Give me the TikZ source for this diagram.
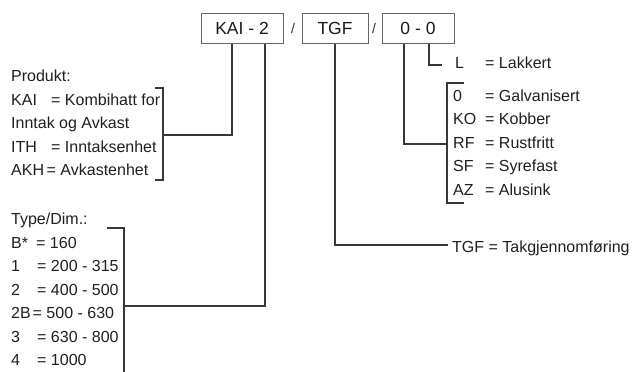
\documentclass[tikz,border=0pt]{standalone}
\usepackage{fontspec}
\setmainfont{Liberation Sans}
\begin{document}
\begin{tikzpicture}[x=1pt,y=-1pt,
  box/.style={draw=black!60, line width=1pt, minimum height=30pt, inner sep=0pt, font=\fontsize{17.5}{20}\selectfont, text=black!90},
  lbl/.style={anchor=base west, inner sep=0pt, font=\fontsize{16}{19}\selectfont, text=black!88},
  slash/.style={inner sep=0pt, font=\fontsize{14}{16}\selectfont, text=black!80},
  conn/.style={draw=black!78, line width=1.3pt},
  brk/.style={draw=black!78, line width=1.3pt}]
\useasboundingbox (0,0) rectangle (635,372);

% code boxes
\node[box, minimum width=82pt] (kai) at (242,28) {KAI - 2};
\node[slash] (s1) at (293,28) {/};
\node[box, minimum width=66pt] (tgf) at (335,28) {TGF};
\node[slash] (s2) at (374,28) {/};
\node[box, minimum width=72pt] (oo) at (418,28) {0 - 0};

% Produkt list
\node[lbl] (p0) at (11,81.5) {Produkt:};
\node[lbl] (p1) at (11,105) {KAI};
\node[lbl] (p1b) at (51,105) {= Kombihatt for};
\node[lbl] (p2) at (11,128.5) {Inntak og Avkast};
\node[lbl] (p3) at (11,152) {ITH};
\node[lbl] (p3b) at (51,152) {= Inntaksenhet};
\node[lbl] (p4) at (11,175.5) {AKH};
\node[lbl] (p4b) at (46.5,175.5) {= Avkastenhet};

% Type list
\node[lbl] (t0) at (11,224.5) {Type/Dim.:};
\node[lbl] (t1) at (11,248) {B*};
\node[lbl] (t1b) at (36,248) {= 160};
\node[lbl] (t2) at (11,271.5) {1};
\node[lbl] (t2b) at (37,271.5) {= 200 - 315};
\node[lbl] (t3) at (11,295) {2};
\node[lbl] (t3b) at (37,295) {= 400 - 500};
\node[lbl] (t4) at (11,318.5) {2B};
\node[lbl] (t4b) at (32.5,318.5) {= 500 - 630};
\node[lbl] (t5) at (11,342) {3};
\node[lbl] (t5b) at (37,342) {= 630 - 800};
\node[lbl] (t6) at (11,365.5) {4};
\node[lbl] (t6b) at (37,365.5) {= 1000};

% material list
\node[lbl] (m0) at (455,68) {L};
\node[lbl] (m0b) at (485,68) {= Lakkert};
\node[lbl] (m1) at (453,101) {0};
\node[lbl] (m1b) at (485,101) {= Galvanisert};
\node[lbl] (m2) at (453,124.5) {KO};
\node[lbl] (m2b) at (485,124.5) {= Kobber};
\node[lbl] (m3) at (453,148) {RF};
\node[lbl] (m3b) at (485,148) {= Rustfritt};
\node[lbl] (m4) at (453,171.5) {SF};
\node[lbl] (m4b) at (485,171.5) {= Syrefast};
\node[lbl] (m5) at (453,195) {AZ};
\node[lbl] (m5b) at (485,195) {= Alusink};

% TGF text
\node[lbl] (tg) at (452,252) {TGF = Takgjennomføring};

% brackets
\coordinate (pbt) at (163,88);
\coordinate (pbb) at (163,180);
\coordinate (pbm) at (163,135);
\draw[brk] ([xshift=-8pt]pbt) -- (pbt) -- (pbb) -- ([xshift=-8pt]pbb);

\coordinate (tbt) at (124,228);
\coordinate (tbb) at (124,373);
\coordinate (tbm) at (124,306);
\draw[brk] ([xshift=-17pt]tbt) -- (tbt) -- (tbb);

\coordinate (mbt) at (447,83);
\coordinate (mbb) at (447,203);
\coordinate (mbm) at (447,144);
\draw[brk] ([xshift=17pt]mbt) -- (mbt) -- (mbb) -- ([xshift=17pt]mbb);

\coordinate (lend) at (442,65);
\coordinate (tgend) at (448,245);

% connectors
\draw[conn] ([xshift=-10pt]kai.south) |- (pbm);
\draw[conn] ([xshift=23pt]kai.south) |- (tbm);
\draw[conn] (tgf.south) |- (tgend);
\draw[conn] ([xshift=-14pt]oo.south) |- (mbm);
\draw[conn] ([xshift=11pt]oo.south) |- (lend);
\end{tikzpicture}
\end{document}
